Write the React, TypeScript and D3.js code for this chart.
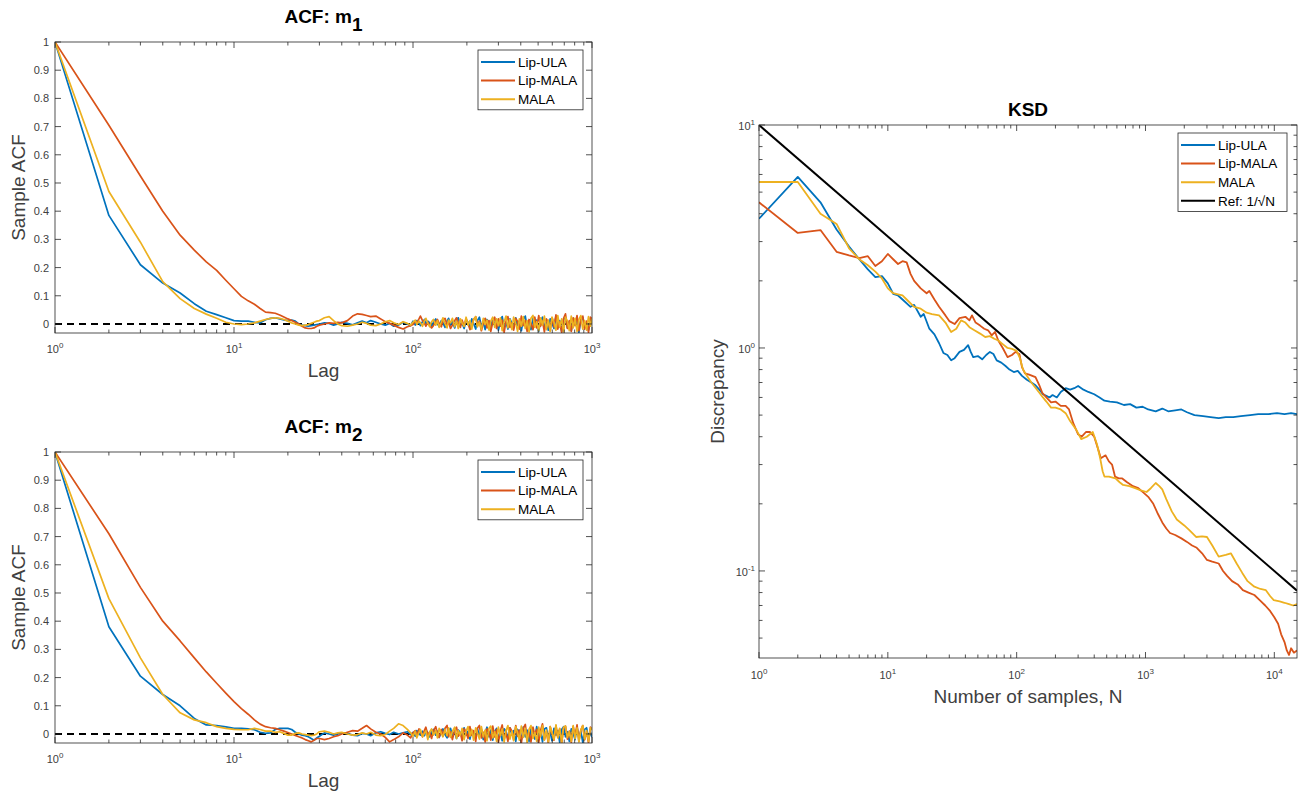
import React from "react";
import * as d3 from "d3";

// ---------------- DATA ----------------
const SERIES_NAMES = ["Lip-ULA", "Lip-MALA", "MALA"];
const SERIES_COLORS = ["#0072BD", "#D95319", "#EDB120"];
const KSD_NAMES = ["Lip-ULA", "Lip-MALA", "MALA", "Ref: 1/\u221AN"];
const KSD_COLORS = ["#0072BD", "#D95319", "#EDB120", "#000000"];

const ACF_X_TICK_EXPS = [0, 1, 2, 3];
const ACF_Y_TICKS = [0, 0.1, 0.2, 0.3, 0.4, 0.5, 0.6, 0.7, 0.8, 0.9, 1];
const ACF_Y_TICK_LABELS = ["0", "0.1", "0.2", "0.3", "0.4", "0.5", "0.6", "0.7", "0.8", "0.9", "1"];
const KSD_X_TICK_EXPS = [0, 1, 2, 3, 4];
const KSD_Y_TICK_EXPS = [-1, 0, 1];

const EARLY_LAGS = [1, 2, 3, 4, 5, 6, 7, 8, 9, 10, 11, 12, 13, 14, 15, 16, 17, 18, 19, 20, 21, 22, 23, 24, 25, 26, 27, 28, 29];
const NOISE_LAGS = [
  30, 32, 34, 36, 38, 40, 43, 46, 49, 52, 55, 58, 62, 66, 70, 74, 78, 83, 88, 93, 97,
  100, 103, 105, 108, 110, 113, 116, 118, 121, 124,
  127, 130, 134, 137, 140, 144, 147, 151, 155, 158,
  162, 166, 171, 175, 179, 184, 188, 193, 198, 203,
  208, 213, 218, 224, 229, 235, 241, 247, 253, 259,
  266, 272, 279, 286, 293, 300, 308, 315, 323, 331,
  339, 348, 357, 365, 375, 384, 393, 403, 413, 424,
  434, 445, 456, 468, 479, 491, 504, 516, 529, 542,
  556, 570, 584, 598, 613, 629, 644, 660, 677, 694,
  711, 729, 747, 766, 785, 804, 825, 845, 866, 888,
  910, 933, 956, 980, 1000,
];

// ACF m1
const M1_LIPULA_EARLY = [1.0, 0.385, 0.21, 0.145, 0.11, 0.072, 0.045, 0.033, 0.022, 0.012, 0.01, 0.01, 0.006, 0.004, 0.015, 0.02, 0.022, 0.018, 0.014, 0.012, 0.014, 0.01, 0.0, -0.004, -0.006, -0.008, -0.006, -0.004, -0.002];
const M1_LIPULA_NOISE = [
  0.0, 0.004, 0.002, -0.004, 0.0, 0.006, 0.002, -0.003, 0.004, 0.01, 0.004, 0.012, 0.006, 0.0, -0.004, 0.002, -0.008, -0.004, 0.006, 0.0, -0.006,
  0.01, -0.004, 0.012, 0.002, -0.006, 0.008, 0.016, -0.002, 0.01, 0.004,
  -0.01, 0.006, 0.018, 0.0, -0.008, 0.012, 0.004, -0.012, 0.01, 0.02,
  -0.004, 0.008, -0.014, 0.012, 0.022, -0.006, 0.004, -0.016, 0.014, 0.006,
  -0.01, 0.018, 0.002, -0.018, 0.012, 0.024, -0.008, 0.006, -0.02, 0.016,
  0.004, -0.012, 0.02, -0.004, 0.014, -0.022, 0.01, 0.026, -0.01, 0.004,
  -0.018, 0.018, 0.002, -0.014, 0.022, -0.006, 0.012, -0.024, 0.016, 0.028,
  -0.012, 0.006, -0.02, 0.02, -0.004, 0.014, -0.026, 0.01, 0.024, -0.008,
  0.004, -0.022, 0.018, 0.002, -0.016, 0.026, -0.01, 0.012, -0.028, 0.016,
  0.022, -0.014, 0.008, -0.024, 0.02, -0.002, 0.014, -0.03, 0.012, 0.024,
  -0.012, 0.006, -0.022, 0.018, 0.01,
];
const M1_LIPMALA_EARLY = [1.0, 0.705, 0.525, 0.4, 0.315, 0.262, 0.22, 0.19, 0.155, 0.125, 0.098, 0.082, 0.07, 0.055, 0.042, 0.04, 0.038, 0.032, 0.025, 0.018, 0.012, 0.006, 0.0, -0.008, -0.014, -0.016, -0.016, -0.014, -0.008];
const M1_LIPMALA_NOISE = [
  -0.004, 0.0, 0.004, 0.002, 0.006, 0.004, 0.012, 0.028, 0.036, 0.034, 0.03, 0.026, 0.028, 0.018, 0.008, 0.002, -0.004, -0.012, -0.018, -0.01, -0.006,
  -0.002, 0.01, 0.004, 0.018, 0.028, 0.012, 0.002, -0.008, 0.006, -0.004,
  -0.014, -0.006, 0.008, 0.016, 0.002, -0.01, 0.012, 0.02, -0.004, 0.006,
  -0.016, -0.004, 0.012, 0.022, 0.004, -0.012, 0.014, -0.008, 0.018, 0.002,
  -0.02, -0.008, 0.016, 0.026, -0.006, 0.01, -0.024, 0.004, 0.02, -0.014,
  0.012, -0.026, 0.006, 0.024, -0.016, 0.018, -0.008, 0.014, -0.03, 0.01,
  0.026, -0.012, 0.004, -0.022, 0.02, 0.008, -0.018, 0.028, -0.006, 0.012,
  -0.026, 0.016, 0.002, -0.02, 0.024, -0.014, 0.03, -0.008, 0.01, -0.028,
  0.018, 0.006, -0.024, 0.022, -0.01, 0.032, -0.018, 0.008, -0.03, 0.02,
  0.036, -0.016, 0.012, -0.026, 0.022, -0.006, 0.03, -0.024, 0.016, 0.028,
  -0.018, 0.01, -0.03, 0.024, 0.018,
];
const M1_MALA_EARLY = [1.0, 0.47, 0.29, 0.15, 0.09, 0.055, 0.035, 0.02, 0.006, 0.0, -0.002, 0.0, 0.004, 0.01, 0.016, 0.02, 0.022, 0.02, 0.016, 0.01, 0.004, 0.0, -0.004, -0.006, -0.004, -0.002, 0.002, 0.006, 0.01];
const M1_MALA_NOISE = [
  0.012, 0.022, 0.026, 0.012, 0.0, -0.006, -0.008, -0.004, 0.0, 0.006, 0.002, -0.004, -0.006, 0.0, 0.008, 0.012, 0.004, -0.002, 0.008, 0.002, -0.004,
  0.006, 0.014, -0.002, 0.01, 0.004, -0.008, 0.012, 0.02, 0.002, -0.01,
  0.008, 0.016, -0.004, 0.012, -0.012, 0.006, 0.022, 0.0, -0.014, 0.014,
  0.004, 0.02, -0.01, 0.01, -0.016, 0.018, 0.004, -0.008, 0.024, -0.004,
  0.012, -0.018, 0.016, 0.026, -0.01, 0.006, -0.02, 0.02, -0.002, 0.014,
  -0.022, 0.01, 0.024, -0.012, 0.018, -0.006, 0.022, -0.024, 0.008, 0.028,
  -0.014, 0.016, -0.02, 0.024, 0.002, -0.026, 0.018, -0.008, 0.026, -0.016,
  0.012, -0.028, 0.02, 0.03, -0.012, 0.008, -0.024, 0.022, -0.004, 0.028,
  -0.02, 0.014, -0.026, 0.024, 0.006, -0.022, 0.03, -0.012, 0.018, -0.028,
  0.024, 0.01, -0.024, 0.028, -0.014, 0.02, -0.026, 0.016, 0.03, -0.018,
  0.012, -0.022, 0.026, -0.008, 0.02,
];

// ACF m2
const M2_LIPULA_EARLY = [1.0, 0.38, 0.205, 0.14, 0.1, 0.055, 0.032, 0.03, 0.025, 0.02, 0.02, 0.018, 0.015, 0.006, 0.002, 0.004, 0.016, 0.02, 0.02, 0.02, 0.016, 0.006, 0.0, -0.004, -0.006, -0.01, -0.016, -0.022, -0.014];
const M2_LIPULA_NOISE = [
  -0.008, 0.004, 0.0, -0.004, 0.0, 0.004, 0.002, -0.004, -0.006, 0.002, 0.0, -0.006, 0.004, 0.008, 0.002, -0.002, 0.006, 0.0, 0.004, 0.008, -0.002,
  0.006, -0.008, 0.012, 0.002, -0.004, 0.01, -0.006, 0.014, 0.004, -0.01,
  0.008, 0.016, -0.004, 0.01, -0.012, 0.006, 0.018, -0.002, -0.014, 0.012,
  0.02, -0.006, 0.008, -0.016, 0.014, 0.004, -0.01, 0.022, -0.004, 0.01,
  -0.018, 0.012, 0.002, -0.014, 0.02, -0.008, 0.016, -0.02, 0.006, 0.024,
  -0.01, 0.014, -0.022, 0.008, 0.02, -0.014, 0.004, -0.024, 0.018, 0.01,
  -0.016, 0.022, -0.004, 0.012, -0.026, 0.016, 0.006, -0.02, 0.024, -0.01,
  0.014, -0.026, 0.02, 0.004, -0.018, 0.026, -0.012, 0.008, -0.028, 0.018,
  0.022, -0.014, 0.006, -0.024, 0.02, -0.004, 0.012, -0.03, 0.016, 0.026,
  -0.01, 0.008, -0.026, 0.018, 0.002, -0.02, 0.024, -0.012, 0.01, -0.03,
  0.016, 0.022, -0.016, 0.006, -0.012,
];
const M2_LIPMALA_EARLY = [1.0, 0.71, 0.52, 0.4, 0.33, 0.27, 0.22, 0.18, 0.145, 0.115, 0.09, 0.07, 0.05, 0.035, 0.026, 0.022, 0.02, 0.015, 0.01, 0.005, 0.0, -0.005, -0.01, -0.014, -0.02, -0.024, -0.028, -0.022, -0.016];
const M2_LIPMALA_NOISE = [
  -0.016, -0.02, -0.016, -0.01, -0.006, 0.0, 0.006, 0.012, 0.01, 0.02, 0.03, 0.018, 0.006, 0.0, -0.012, -0.028, -0.02, -0.01, 0.004, -0.004, -0.014,
  0.004, 0.012, -0.006, 0.018, 0.008, -0.01, 0.014, 0.024, -0.004, 0.006,
  -0.016, 0.01, 0.026, 0.002, -0.012, 0.016, -0.006, 0.02, 0.03, -0.01,
  0.008, -0.02, 0.014, 0.024, -0.008, 0.004, -0.024, 0.018, 0.006, -0.016,
  0.026, -0.004, 0.012, -0.026, 0.02, 0.03, -0.014, 0.006, -0.028, 0.018,
  0.008, -0.022, 0.028, -0.01, 0.016, -0.03, 0.012, 0.032, -0.018, 0.004,
  -0.026, 0.022, 0.01, -0.02, 0.03, -0.008, 0.014, -0.032, 0.02, 0.034,
  -0.016, 0.006, -0.028, 0.024, -0.004, 0.016, -0.03, 0.012, 0.036, -0.02,
  0.008, -0.032, 0.026, 0.002, -0.022, 0.03, -0.012, 0.018, -0.034, 0.022,
  0.028, -0.018, 0.01, -0.03, 0.026, -0.006, 0.032, -0.026, 0.014, 0.03,
  -0.02, 0.008, -0.032, 0.024, 0.016,
];
const M2_MALA_EARLY = [1.0, 0.48, 0.27, 0.14, 0.075, 0.05, 0.04, 0.026, 0.02, 0.016, 0.015, 0.015, 0.02, 0.016, 0.01, 0.01, 0.006, 0.008, 0.002, -0.004, -0.004, 0.002, 0.004, 0.0, -0.002, -0.004, -0.006, -0.004, 0.0];
const M2_MALA_NOISE = [
  0.008, 0.01, 0.006, 0.0, 0.004, 0.006, 0.0, -0.004, -0.002, 0.004, 0.0, 0.006, -0.004, -0.006, -0.002, 0.01, 0.02, 0.036, 0.03, 0.016, 0.004,
  -0.008, 0.01, -0.014, 0.006, 0.016, -0.01, 0.004, 0.012, -0.02, 0.008,
  0.018, -0.004, 0.012, -0.014, 0.02, 0.002, -0.01, 0.016, -0.006, 0.022,
  -0.012, 0.008, 0.024, -0.016, 0.012, -0.004, 0.02, -0.02, 0.01, 0.026,
  -0.008, 0.016, -0.022, 0.022, 0.004, -0.018, 0.026, -0.01, 0.014, -0.024,
  0.02, 0.028, -0.014, 0.008, -0.026, 0.024, -0.006, 0.018, -0.028, 0.012,
  0.03, -0.018, 0.01, -0.024, 0.026, 0.004, -0.022, 0.028, -0.012, 0.02,
  -0.03, 0.016, 0.03, -0.016, 0.006, -0.026, 0.024, -0.008, 0.03, -0.022,
  0.014, -0.028, 0.026, 0.004, -0.02, 0.032, -0.014, 0.02, -0.03, 0.024,
  0.028, -0.012, 0.008, -0.026, 0.03, -0.016, 0.022, -0.028, 0.014, 0.03,
  -0.02, 0.012, -0.026, 0.022, 0.014,
];

// KSD
const KSD_LIPULA_N = [1, 2, 3, 4, 5, 6, 7, 8, 9, 10, 11, 12, 13, 15, 16, 18, 19, 21, 23, 25, 27, 29, 31, 33, 36, 39, 42, 44, 46, 50, 54, 58, 62, 66, 70, 76, 82, 88, 95, 102, 110, 120, 130, 140, 150, 160, 170, 180, 190, 205, 220, 240, 260, 280, 300, 330, 360, 400, 440, 480, 530, 600, 680, 760, 850, 950, 1050, 1200, 1350, 1500, 1700, 1900, 2100, 2400, 2800, 3200, 3700, 4200, 4800, 5500, 6500, 7500, 9000, 10500, 12000, 13500, 15000];
const KSD_LIPULA_V = [3.8, 5.85, 4.5, 3.4, 2.85, 2.5, 2.25, 2.08, 2.1, 1.95, 1.75, 1.72, 1.65, 1.53, 1.56, 1.38, 1.42, 1.22, 1.15, 1.05, 0.95, 0.93, 0.88, 0.9, 0.96, 0.98, 1.03, 0.96, 0.91, 0.92, 0.89, 0.93, 0.96, 0.94, 0.88, 0.86, 0.83, 0.8, 0.78, 0.79, 0.75, 0.72, 0.7, 0.68, 0.65, 0.62, 0.61, 0.6, 0.615, 0.6, 0.635, 0.66, 0.65, 0.66, 0.675, 0.65, 0.635, 0.62, 0.6, 0.58, 0.575, 0.57, 0.555, 0.56, 0.54, 0.545, 0.53, 0.52, 0.535, 0.52, 0.525, 0.53, 0.515, 0.5, 0.495, 0.49, 0.485, 0.49, 0.49, 0.495, 0.5, 0.505, 0.505, 0.51, 0.505, 0.51, 0.505];

const KSD_LIPMALA_N = [1, 2, 3, 4, 5, 6, 7, 8, 9, 10, 11, 12, 13, 14, 15, 16, 18, 20, 21, 23, 25, 28, 30, 33, 36, 40, 43, 45, 48, 52, 56, 60, 64, 68, 72, 78, 85, 92, 98, 105, 110, 116, 125, 140, 150, 158, 170, 185, 200, 220, 240, 255, 275, 300, 320, 345, 370, 400, 430, 450, 490, 520, 550, 580, 620, 660, 720, 800, 880, 960, 1050, 1150, 1250, 1350, 1450, 1550, 1700, 1900, 2100, 2300, 2500, 2750, 3000, 3300, 3700, 4000, 4300, 4700, 5200, 5700, 6300, 7000, 7700, 8500, 9300, 10000, 10700, 11300, 12000, 12500, 13000, 13500, 14200, 15000];
const KSD_LIPMALA_V = [4.5, 3.28, 3.38, 2.7, 2.6, 2.53, 2.58, 2.33, 2.45, 2.64, 2.5, 2.38, 2.45, 2.42, 2.15, 2.0, 1.85, 1.76, 1.8, 1.65, 1.53, 1.4, 1.32, 1.28, 1.36, 1.38, 1.33, 1.4, 1.3, 1.26, 1.22, 1.2, 1.14, 1.18, 1.08, 1.0, 0.91, 0.93, 0.96, 0.94, 0.82, 0.77, 0.76, 0.74, 0.68, 0.63, 0.6, 0.57, 0.575, 0.55, 0.55, 0.53, 0.46, 0.41, 0.4, 0.42, 0.42, 0.4, 0.35, 0.32, 0.33, 0.31, 0.3, 0.265, 0.26, 0.26, 0.25, 0.24, 0.235, 0.225, 0.215, 0.2, 0.18, 0.165, 0.155, 0.148, 0.145, 0.14, 0.135, 0.13, 0.127, 0.12, 0.112, 0.11, 0.108, 0.1, 0.095, 0.09, 0.087, 0.082, 0.08, 0.078, 0.074, 0.07, 0.066, 0.062, 0.058, 0.052, 0.048, 0.044, 0.042, 0.045, 0.043, 0.044];

const KSD_MALA_N = [1, 2, 3, 4, 5, 6, 7, 8, 9, 10, 11, 12, 13, 14, 16, 18, 20, 22, 25, 28, 31, 34, 37, 40, 43, 47, 52, 57, 62, 67, 72, 78, 85, 92, 100, 106, 112, 120, 130, 138, 150, 160, 170, 185, 200, 220, 240, 260, 290, 317, 350, 390, 420, 445, 465, 480, 520, 585, 630, 670, 750, 830, 920, 1020, 1100, 1200, 1280, 1350, 1450, 1600, 1750, 2000, 2200, 2470, 2750, 3000, 3300, 3700, 4200, 4600, 5100, 5640, 6200, 7000, 7800, 8600, 9300, 9900, 11000, 12000, 13000, 14000, 15000];
const KSD_MALA_V = [5.55, 5.55, 4.0, 3.6, 2.8, 2.5, 2.35, 2.2, 2.05, 1.85, 1.76, 1.74, 1.72, 1.65, 1.53, 1.5, 1.44, 1.42, 1.4, 1.3, 1.18, 1.22, 1.33, 1.3, 1.24, 1.2, 1.16, 1.12, 1.13, 1.1, 1.08, 1.04, 1.0, 0.99, 0.97, 0.9, 0.8, 0.75, 0.7, 0.67, 0.63, 0.6, 0.575, 0.54, 0.54, 0.53, 0.51, 0.47, 0.43, 0.39, 0.4, 0.42, 0.37, 0.32, 0.28, 0.265, 0.265, 0.26, 0.25, 0.243, 0.24, 0.235, 0.23, 0.226, 0.235, 0.248, 0.24, 0.232, 0.21, 0.185, 0.17, 0.16, 0.152, 0.142, 0.143, 0.142, 0.13, 0.116, 0.118, 0.12, 0.108, 0.098, 0.09, 0.085, 0.083, 0.082, 0.077, 0.074, 0.073, 0.072, 0.071, 0.07, 0.071];

const KSD_REF_N = [1, 15000];
const KSD_REF_V = [10, 0.0816];

// ---------------- LAYOUT ----------------
const FONT = '"Liberation Sans", Arial, Helvetica, sans-serif';
const AXIS_COLOR = "#262626";
const TEXT_COLOR = "#404040";

type Pt = [number, number];
function zip(xs: number[], ys: number[]): Pt[] {
  const n = Math.min(xs.length, ys.length);
  const out: Pt[] = [];
  for (let i = 0; i < n; i++) out.push([xs[i], ys[i]]);
  return out;
}

function Legend({ x, y, w, names, colors }: { x: number; y: number; w: number; names: string[]; colors: string[] }) {
  const rowH = 18.6;
  const h = names.length * rowH + 4;
  return (
    <g>
      <rect x={x} y={y} width={w} height={h} fill="#fff" stroke={AXIS_COLOR} strokeWidth={0.8} />
      {names.map((n, i) => {
        const cy = y + 12 + i * rowH;
        return (
          <g key={n}>
            <line x1={x + 3} x2={x + 37} y1={cy} y2={cy} stroke={colors[i]} strokeWidth={2} />
            <text x={x + 40} y={cy + 4.8} fontSize={13.5} fill="#000" fontFamily={FONT}>{n}</text>
          </g>
        );
      })}
    </g>
  );
}

function Pow10Label({ x, y, exp, anchor }: { x: number; y: number; exp: number; anchor: "middle" | "end" }) {
  return (
    <text x={x} y={y} textAnchor={anchor} fontSize={11} fill={TEXT_COLOR} fontFamily={FONT}>
      10<tspan dy={-5} fontSize={8}>{exp}</tspan>
    </text>
  );
}

function AcfPanel({ top, sub, id, data }: { top: number; sub: string; id: string; data: Pt[][] }) {
  const left = 55, right = 592, bottom = top + 291;
  const x = d3.scaleLog().domain([1, 1000]).range([left, right]);
  const y = d3.scaleLinear().domain([-0.032, 1]).range([bottom, top]);
  const line = d3.line<Pt>().x((d) => x(d[0])).y((d) => y(d[1]));
  const xTicks = x.ticks();
  return (
    <g>
      <defs>
        <clipPath id={id}>
          <rect x={left} y={top} width={right - left} height={bottom - top} />
        </clipPath>
      </defs>
      <text x={(left + right) / 2} y={top - 19} textAnchor="middle" fontSize={19} fontWeight="bold" fill="#000" fontFamily={FONT}>
        ACF: m<tspan dy={8}>{sub}</tspan>
      </text>
      <g clipPath={`url(#${id})`}>
        <line x1={left} x2={right} y1={y(0)} y2={y(0)} stroke="#000" strokeWidth={1.8} strokeDasharray="7,5" />
        {data.map((d, i) => (
          <path key={i} d={line(d) || ""} fill="none" stroke={SERIES_COLORS[i]} strokeWidth={1.7} strokeLinejoin="round" />
        ))}
      </g>
      <rect x={left} y={top} width={right - left} height={bottom - top} fill="none" stroke={AXIS_COLOR} strokeWidth={0.8} />
      {xTicks.map((t, i) => {
        const major = Math.abs(Math.log10(t) - Math.round(Math.log10(t))) < 1e-9;
        const len = major ? 6 : 3.5;
        return (
          <g key={i}>
            <line x1={x(t)} x2={x(t)} y1={bottom} y2={bottom - len} stroke={AXIS_COLOR} strokeWidth={0.8} />
            <line x1={x(t)} x2={x(t)} y1={top} y2={top + len} stroke={AXIS_COLOR} strokeWidth={0.8} />
          </g>
        );
      })}
      {ACF_X_TICK_EXPS.map((e) => (
        <Pow10Label key={e} x={x(Math.pow(10, e))} y={bottom + 20} exp={e} anchor="middle" />
      ))}
      {ACF_Y_TICKS.map((t, i) => (
        <g key={i}>
          <line x1={left} x2={left + 6} y1={y(t)} y2={y(t)} stroke={AXIS_COLOR} strokeWidth={0.8} />
          <line x1={right} x2={right - 6} y1={y(t)} y2={y(t)} stroke={AXIS_COLOR} strokeWidth={0.8} />
          <text x={left - 6} y={y(t) + 4} textAnchor="end" fontSize={11} fill={TEXT_COLOR} fontFamily={FONT}>
            {ACF_Y_TICK_LABELS[i]}
          </text>
        </g>
      ))}
      <text x={(left + right) / 2} y={bottom + 44} textAnchor="middle" fontSize={19} fill={TEXT_COLOR} fontFamily={FONT}>Lag</text>
      <text transform={`translate(25,${(top + bottom) / 2}) rotate(-90)`} textAnchor="middle" fontSize={19} fill={TEXT_COLOR} fontFamily={FONT}>
        Sample ACF
      </text>
      <Legend x={478} y={top + 8} w={105} names={SERIES_NAMES} colors={SERIES_COLORS} />
    </g>
  );
}

function KsdPanel() {
  const left = 759, right = 1297, top = 125, bottom = 658;
  const x = d3.scaleLog().domain([1, 15000]).range([left, right]);
  const y = d3.scaleLog().domain([0.0407, 10]).range([bottom, top]);
  const line = d3.line<Pt>().x((d) => x(d[0])).y((d) => y(d[1]));
  const series: Pt[][] = [
    zip(KSD_LIPULA_N, KSD_LIPULA_V),
    zip(KSD_LIPMALA_N, KSD_LIPMALA_V),
    zip(KSD_MALA_N, KSD_MALA_V),
    zip(KSD_REF_N, KSD_REF_V),
  ];
  const isMajor = (t: number) => Math.abs(Math.log10(t) - Math.round(Math.log10(t))) < 1e-9;
  return (
    <g>
      <defs>
        <clipPath id="ksdclip">
          <rect x={left} y={top} width={right - left} height={bottom - top} />
        </clipPath>
      </defs>
      <text x={(left + right) / 2} y={116} textAnchor="middle" fontSize={19} fontWeight="bold" fill="#000" fontFamily={FONT}>KSD</text>
      <g clipPath="url(#ksdclip)">
        {series.map((d, i) => (
          <path key={i} d={line(d) || ""} fill="none" stroke={KSD_COLORS[i]} strokeWidth={i === 3 ? 2 : 1.8} strokeLinejoin="round" />
        ))}
      </g>
      <rect x={left} y={top} width={right - left} height={bottom - top} fill="none" stroke={AXIS_COLOR} strokeWidth={0.8} />
      {x.ticks().map((t, i) => {
        const len = isMajor(t) ? 6 : 3.5;
        return (
          <g key={i}>
            <line x1={x(t)} x2={x(t)} y1={bottom} y2={bottom - len} stroke={AXIS_COLOR} strokeWidth={0.8} />
            <line x1={x(t)} x2={x(t)} y1={top} y2={top + len} stroke={AXIS_COLOR} strokeWidth={0.8} />
          </g>
        );
      })}
      {y.ticks().map((t, i) => {
        const len = isMajor(t) ? 6 : 3.5;
        return (
          <g key={i}>
            <line x1={left} x2={left + len} y1={y(t)} y2={y(t)} stroke={AXIS_COLOR} strokeWidth={0.8} />
            <line x1={right} x2={right - len} y1={y(t)} y2={y(t)} stroke={AXIS_COLOR} strokeWidth={0.8} />
          </g>
        );
      })}
      {KSD_X_TICK_EXPS.map((e) => (
        <Pow10Label key={e} x={x(Math.pow(10, e))} y={bottom + 21} exp={e} anchor="middle" />
      ))}
      {KSD_Y_TICK_EXPS.map((e) => (
        <Pow10Label key={e} x={left - 4} y={y(Math.pow(10, e)) + 5} exp={e} anchor="end" />
      ))}
      <text x={(left + right) / 2} y={703} textAnchor="middle" fontSize={19} fill={TEXT_COLOR} fontFamily={FONT}>
        Number of samples, N
      </text>
      <text transform={`translate(724,${(top + bottom) / 2}) rotate(-90)`} textAnchor="middle" fontSize={19} fill={TEXT_COLOR} fontFamily={FONT}>
        Discrepancy
      </text>
      <Legend x={1178} y={133} w={109} names={KSD_NAMES} colors={KSD_COLORS} />
    </g>
  );
}

export default function App() {
  const lags = [...EARLY_LAGS, ...NOISE_LAGS];
  const m1: Pt[][] = [
    zip(lags, [...M1_LIPULA_EARLY, ...M1_LIPULA_NOISE]),
    zip(lags, [...M1_LIPMALA_EARLY, ...M1_LIPMALA_NOISE]),
    zip(lags, [...M1_MALA_EARLY, ...M1_MALA_NOISE]),
  ];
  const m2: Pt[][] = [
    zip(lags, [...M2_LIPULA_EARLY, ...M2_LIPULA_NOISE]),
    zip(lags, [...M2_LIPMALA_EARLY, ...M2_LIPMALA_NOISE]),
    zip(lags, [...M2_MALA_EARLY, ...M2_MALA_NOISE]),
  ];
  return (
    <svg width={1300} height={796} style={{ position: "absolute", left: 0, top: 0, background: "#fff" }}>
      <rect x={0} y={0} width={1300} height={796} fill="#fff" />
      <AcfPanel top={42} sub="1" id="acf1" data={m1} />
      <AcfPanel top={452} sub="2" id="acf2" data={m2} />
      <KsdPanel />
    </svg>
  );
}
